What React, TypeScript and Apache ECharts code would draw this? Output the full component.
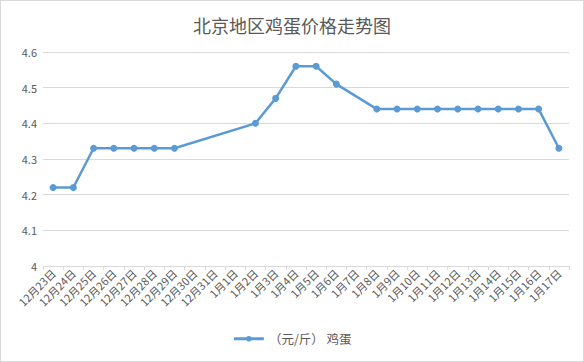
import React, { useEffect, useRef } from "react";
import * as echarts from "echarts";

const categories = [
  "12月23日", "12月24日", "12月25日", "12月26日", "12月27日", "12月28日", "12月29日",
  "12月30日", "12月31日", "1月1日", "1月2日", "1月3日", "1月4日", "1月5日", "1月6日",
  "1月7日", "1月8日", "1月9日", "1月10日", "1月11日", "1月12日", "1月13日", "1月14日",
  "1月15日", "1月16日", "1月17日",
];
const eggPrices: (number | null)[] = [
  4.22, 4.22, 4.33, 4.33, 4.33, 4.33, 4.33,
  null, null, null, 4.40, 4.47, 4.56, 4.56, 4.51,
  null, 4.44, 4.44, 4.44, 4.44, 4.44, 4.44, 4.44,
  4.44, 4.44, 4.33,
];
const seriesName = "（元/斤） 鸡蛋";
const titleText = "北京地区鸡蛋价格走势图";

export default function App() {
  const ref = useRef<HTMLDivElement>(null);
  useEffect(() => {
    if (!ref.current) return;
    const chart = echarts.init(ref.current, null, { renderer: "svg" });
    const font = "'Microsoft YaHei', 'Noto Sans CJK SC', sans-serif";
    chart.setOption({
      animation: false,
      backgroundColor: "#ffffff",
      title: {
        text: titleText,
        left: "center",
        top: 10,
        textStyle: { fontSize: 18, fontWeight: "normal", color: "#595959", fontFamily: font },
      },
      legend: {
        bottom: 11,
        left: "center",
        itemWidth: 30,
        itemHeight: 7,
        itemGap: 10,
        lineStyle: { width: 3 },
        textStyle: { fontSize: 12.5, color: "#595959", fontFamily: font },
        data: [seriesName],
      },
      grid: { left: 42, right: 14, top: 51, bottom: 95, containLabel: false },
      xAxis: {
        type: "category",
        data: categories,
        boundaryGap: true,
        axisLine: { lineStyle: { color: "#d9d9d9", width: 1 } },
        axisTick: { show: true, alignWithLabel: false, length: 4, lineStyle: { color: "#d9d9d9" } },
        axisLabel: {
          interval: 0,
          rotate: 45,
          fontSize: 11,
          color: "#595959",
          fontFamily: font,
          margin: 5,
        },
      },
      yAxis: {
        type: "value",
        min: 4,
        max: 4.6,
        interval: 0.1,
        axisLine: { show: false },
        axisTick: { show: false },
        splitLine: { lineStyle: { color: "#d9d9d9", width: 1 } },
        axisLabel: {
          fontSize: 11,
          color: "#595959",
          fontFamily: font,
          margin: 6,
          formatter: (v: number) => String(Math.round(v * 10) / 10),
        },
      },
      series: [
        {
          name: seriesName,
          type: "line",
          data: eggPrices,
          connectNulls: true,
          symbol: "circle",
          symbolSize: 7,
          itemStyle: { color: "#5b9bd5" },
          lineStyle: { color: "#5b9bd5", width: 2.5 },
        },
      ],
    });
    return () => chart.dispose();
  }, []);
  return (
    <div
      style={{
        position: "fixed",
        left: 0,
        top: 0,
        width: 584,
        height: 362,
        boxSizing: "border-box",
        border: "1px solid #d9d9d9",
        background: "#fff",
      }}
    >
      <div ref={ref} style={{ width: 582, height: 360 }} />
    </div>
  );
}
